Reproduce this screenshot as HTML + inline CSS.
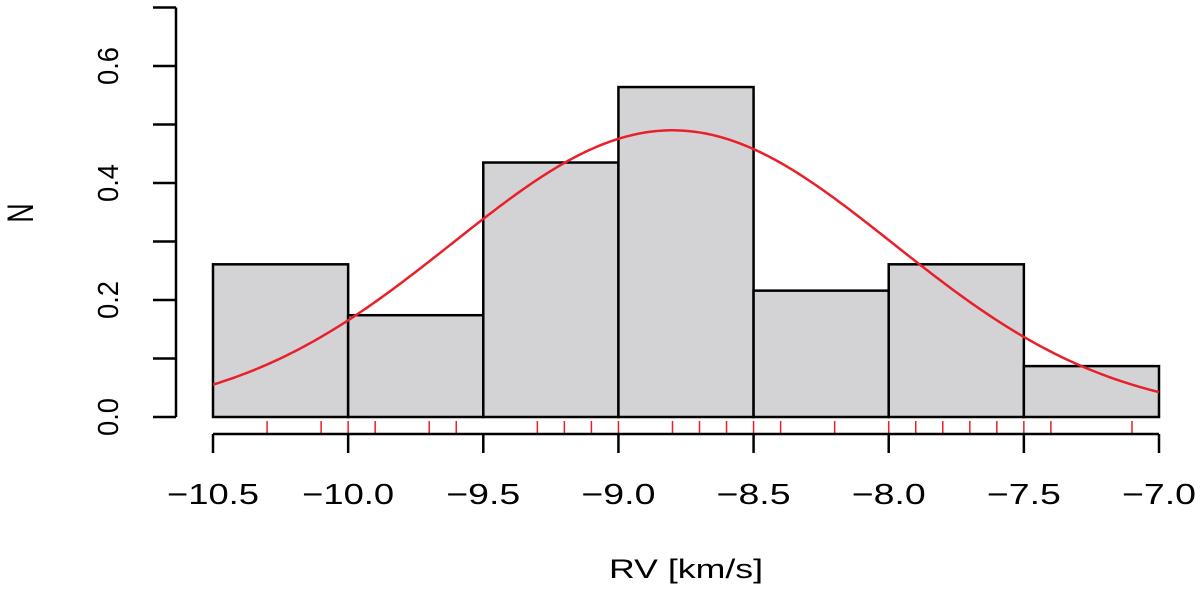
<!DOCTYPE html>
<html><head><meta charset="utf-8"><style>
html,body{margin:0;padding:0;background:#fff;}
svg text{font-family:"Liberation Sans",Arial,sans-serif;fill:#000;}
</style></head><body>
<svg id="chart" width="1200" height="593" viewBox="0 0 1200 593" xmlns="http://www.w3.org/2000/svg">
<g id="bars"></g>
<path id="curve" fill="none" stroke="#e8202a" stroke-width="2.5"/>
<g id="rug"></g>
<g id="xaxis"></g>
<g id="yaxis"></g>
<text x="609" y="578" font-size="27" textLength="154" lengthAdjust="spacingAndGlyphs">RV [km/s]</text>
<text transform="translate(33,213) scale(1.38,1) rotate(-90)" font-size="27" text-anchor="middle">N</text>
</svg>
<script>
const binEdges=[-10.5,-10,-9.5,-9,-8.5,-8,-7.5,-7];
const density=[0.261,0.174,0.435,0.564,0.216,0.261,0.087];
const rugValues=[-10.3,-10.1,-10.0,-9.9,-9.7,-9.6,-9.3,-9.2,-9.1,-9.0,-8.8,-8.7,-8.6,-8.5,-8.4,-8.2,-8.0,-7.9,-7.8,-7.7,-7.6,-7.5,-7.4,-7.1];
const xTicks=[-10.5,-10.0,-9.5,-9.0,-8.5,-8.0,-7.5,-7.0];
const xTickLabels=["\u221210.5","\u221210.0","\u22129.5","\u22129.0","\u22128.5","\u22128.0","\u22127.5","\u22127.0"];
const yTicks=[0,0.1,0.2,0.3,0.4,0.5,0.6,0.7];
const yTickLabels=["0.0","0.2","0.4","0.6"];
const yLabelValues=[0,0.2,0.4,0.6];
const fitMean=-8.8, fitSd=0.814;

const NS="http://www.w3.org/2000/svg";
const X=v=>213+(v+10.5)*(1159-213)/3.5;
const Y=v=>417-v*(417-66)/0.6;
function mk(tag,attrs,parent){const e=document.createElementNS(NS,tag);for(const k in attrs)e.setAttribute(k,attrs[k]);parent.appendChild(e);return e;}

const bars=document.getElementById('bars');
density.forEach((d,i)=>{
  const r=mk('rect',{x:X(binEdges[i]),y:Y(d),width:X(binEdges[i+1])-X(binEdges[i]),height:Y(0)-Y(d),fill:'#d3d3d6',stroke:'#000','stroke-width':2.5},bars);
  
  
});
let p='';
for(let i=0;i<=300;i++){const v=-10.5+3.5*i/300;const f=Math.exp(-((v-fitMean)**2)/(2*fitSd*fitSd))/(fitSd*Math.sqrt(2*Math.PI));p+=(i?'L':'M')+X(v).toFixed(2)+','+Y(f).toFixed(2);}
document.getElementById('curve').setAttribute('d',p);

const rug=document.getElementById('rug');
rugValues.forEach(v=>{
  const l=mk('line',{x1:X(v),x2:X(v),y1:421,y2:434,stroke:'#e8202a','stroke-width':1.5},rug);
  
  
});

const xa=document.getElementById('xaxis');
mk('line',{x1:X(xTicks[0]),x2:X(xTicks[xTicks.length-1]),y1:434,y2:434,stroke:'#000','stroke-width':2.5},xa);
xTicks.forEach((v,i)=>{
  mk('line',{x1:X(v),x2:X(v),y1:434,y2:453,stroke:'#000','stroke-width':2.5},xa);
  const len=xTickLabels[i].length===5?92:74;
  const t=mk('text',{x:X(v)-len/2,y:504,'font-size':29,textLength:len,lengthAdjust:'spacingAndGlyphs'},xa);
  t.textContent=xTickLabels[i];
  
  
});

const ya=document.getElementById('yaxis');
mk('line',{x1:176,x2:176,y1:Y(yTicks[0]),y2:Y(yTicks[yTicks.length-1]),stroke:'#000','stroke-width':2.5},ya);
yTicks.forEach(v=>{mk('line',{x1:153,x2:176,y1:Y(v),y2:Y(v),stroke:'#000','stroke-width':2.5},ya);});
yLabelValues.forEach((v,i)=>{
  const t=mk('text',{transform:'translate(118,'+(Y(v)+19)+') rotate(-90)','font-size':29,textLength:38,lengthAdjust:'spacingAndGlyphs'},ya);
  t.textContent=yTickLabels[i];
  
  
});
</script>
</body></html>
